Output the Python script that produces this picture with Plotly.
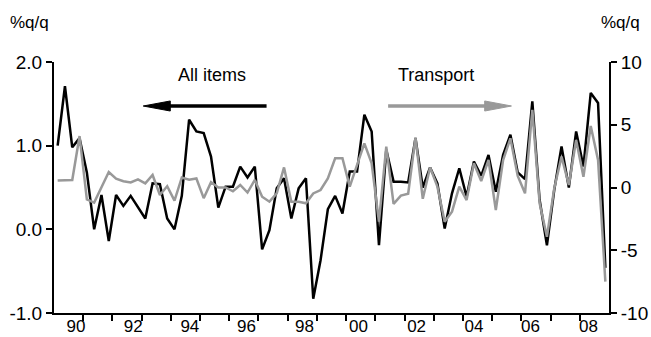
import plotly.graph_objects as go

# Quarterly data, 1990Q1 .. 2008Q4
QUARTERS = [f"{y}Q{q}" for y in range(1990, 2009) for q in range(1, 5)]

ALL_ITEMS = [
    1.00, 1.71, 0.98, 1.09, 0.68, 0.00, 0.41, -0.14, 0.41, 0.28,
    0.40, 0.27, 0.13, 0.55, 0.54, 0.13, 0.00, 0.40, 1.31, 1.17,
    1.15, 0.87, 0.26, 0.51, 0.51, 0.75, 0.62, 0.75, -0.24, -0.01,
    0.49, 0.61, 0.13, 0.49, 0.61, -0.83, -0.37, 0.24, 0.40, 0.19,
    0.69, 0.69, 1.37, 1.17, -0.19, 0.95, 0.57, 0.57, 0.56, 1.09,
    0.50, 0.74, 0.55, 0.01, 0.43, 0.73, 0.39, 0.81, 0.64, 0.89,
    0.45, 0.89, 1.13, 0.68, 0.60, 1.53, 0.35, -0.19, 0.47, 0.99,
    0.50, 1.17, 0.75, 1.63, 1.51, -0.46,
]

TRANSPORT = [
    0.55, 0.55, 0.60, 4.10, -0.95, -1.20, 0.00, 1.23, 0.70, 0.50,
    0.40, 0.65, 0.33, 1.00, -0.60, 0.10, -1.05, 0.80, 0.62, 0.72,
    -0.85, 0.42, 0.00, 0.00, -0.30, 0.20, -0.40, 0.60, -0.73, -1.13,
    -0.47, 1.60, -1.13, -1.13, -1.26, -0.47, -0.20, 0.73, 2.33, 2.33,
    0.07, 1.71, 3.52, 1.93, -2.72, 3.25, -1.31, -0.65, -0.50, 4.00,
    -0.90, 1.60, 0.07, -2.72, -1.93, 0.07, -1.00, 1.93, 0.52, 2.19,
    -1.79, 2.19, 3.92, 0.92, -0.46, 6.18, -1.26, -3.92, -0.07, 2.46,
    0.20, 3.78, 0.86, 4.90, 2.19, -7.50,
]

YEAR_LABELS = ["90", "92", "94", "96", "98", "00", "02", "04", "06", "08"]
YEAR_LABEL_POS = [2.5, 10.35, 18.1, 25.85, 33.8, 41.2, 49.15, 57.0, 64.75, 72.7]
YEAR_TICK_POS = [3.5 + 4 * k for k in range(18)]

LEFT_TICKS = [-1, 0, 1, 2]
LEFT_TICK_TEXT = ["-1.0", "0.0", "1.0", "2.0"]
RIGHT_TICKS = [-10, -5, 0, 5, 10]
RIGHT_TICK_TEXT = ["-10", "-5", "0", "5", "10"]

BLACK = "#000000"
GREY = "#999999"
FONT = "Liberation Sans"

x = list(range(len(QUARTERS)))

fig = go.Figure()
fig.add_trace(go.Scatter(x=x, y=TRANSPORT, mode="lines", name="Transport",
                         line=dict(color=GREY, width=2.5), text=QUARTERS,
                         xaxis="x", yaxis="y2"))
fig.add_trace(go.Scatter(x=x, y=ALL_ITEMS, mode="lines", name="All items",
                         line=dict(color=BLACK, width=2.5), text=QUARTERS,
                         xaxis="x", yaxis="y"))
# dummy trace so xaxis2 (label axis) is drawn
fig.add_trace(go.Scatter(x=[None], y=[None], xaxis="x2", yaxis="y",
                         showlegend=False, hoverinfo="skip"))

xr = [-0.5, len(QUARTERS) - 0.5]

fig.update_layout(
    width=651, height=337,
    margin=dict(l=54, r=42, t=62, b=24, autoexpand=False),
    paper_bgcolor="white", plot_bgcolor="white",
    showlegend=False,
    font=dict(family=FONT, size=18, color="black"),
    xaxis=dict(range=xr, tickmode="array", tickvals=YEAR_TICK_POS,
               showticklabels=False, ticks="outside", ticklen=6, tickwidth=2,
               tickcolor="black", showline=True, linecolor="black", linewidth=2,
               showgrid=False, zeroline=False, automargin=False),
    xaxis2=dict(range=xr, overlaying="x", anchor="y", side="bottom",
                tickmode="array", tickvals=YEAR_LABEL_POS, ticktext=YEAR_LABELS,
                ticks="", showline=False, showgrid=False, zeroline=False,
                tickfont=dict(family=FONT, size=17), ticklabelstandoff=1,
                automargin=False),
    yaxis=dict(range=[-1, 2], tickmode="array", tickvals=LEFT_TICKS,
               ticktext=LEFT_TICK_TEXT, ticks="outside", ticklen=6, tickwidth=2,
               tickcolor="black", showline=True, linecolor="black", linewidth=2,
               showgrid=False, zeroline=False, automargin=False,
               tickfont=dict(family=FONT, size=19)),
    yaxis2=dict(range=[-10, 10], tickmode="array", tickvals=RIGHT_TICKS,
                ticktext=RIGHT_TICK_TEXT,
                overlaying="y", side="right", anchor="x",
                ticks="outside", ticklen=6, tickwidth=2,
                tickcolor="black", showline=True, linecolor="black", linewidth=2,
                showgrid=False, zeroline=False, automargin=False,
                tickfont=dict(family=FONT, size=19)),
)

# Unit labels
fig.add_annotation(text="%q/q", xref="paper", yref="paper", x=-0.083, y=1.159,
                   xanchor="left", yanchor="middle", showarrow=False,
                   font=dict(family=FONT, size=17))
fig.add_annotation(text="%q/q", xref="paper", yref="paper", x=1.0595, y=1.159,
                   xanchor="right", yanchor="middle", showarrow=False,
                   font=dict(family=FONT, size=17))

# Series labels
fig.add_annotation(text="All items", xref="paper", yref="paper", x=0.2845, y=0.948,
                   xanchor="center", yanchor="middle", showarrow=False,
                   font=dict(family=FONT, size=18))
fig.add_annotation(text="Transport", xref="paper", yref="paper", x=0.688, y=0.947,
                   xanchor="center", yanchor="middle", showarrow=False,
                   font=dict(family=FONT, size=18))

# Arrows (shaft + triangular head)
ay = 0.8247
hh = 0.02
fig.add_shape(type="line", xref="paper", yref="paper", x0=0.20, x1=0.383, y0=ay, y1=ay,
              line=dict(color=BLACK, width=3.5))
fig.add_shape(type="path", xref="paper", yref="paper",
              path=f"M 0.1608 {ay} L 0.2095 {ay+hh} L 0.2095 {ay-hh} Z",
              fillcolor=BLACK, line=dict(color=BLACK, width=1))
fig.add_shape(type="line", xref="paper", yref="paper", x0=0.602, x1=0.79, y0=ay, y1=ay,
              line=dict(color=GREY, width=3.5))
fig.add_shape(type="path", xref="paper", yref="paper",
              path=f"M 0.8242 {ay} L 0.776 {ay+hh} L 0.776 {ay-hh} Z",
              fillcolor=GREY, line=dict(color=GREY, width=1))

fig.write_html(
    "out.html",
    config={"displayModeBar": False},
    post_script="document.body.style.margin='0';document.body.style.overflow='hidden';",
)
